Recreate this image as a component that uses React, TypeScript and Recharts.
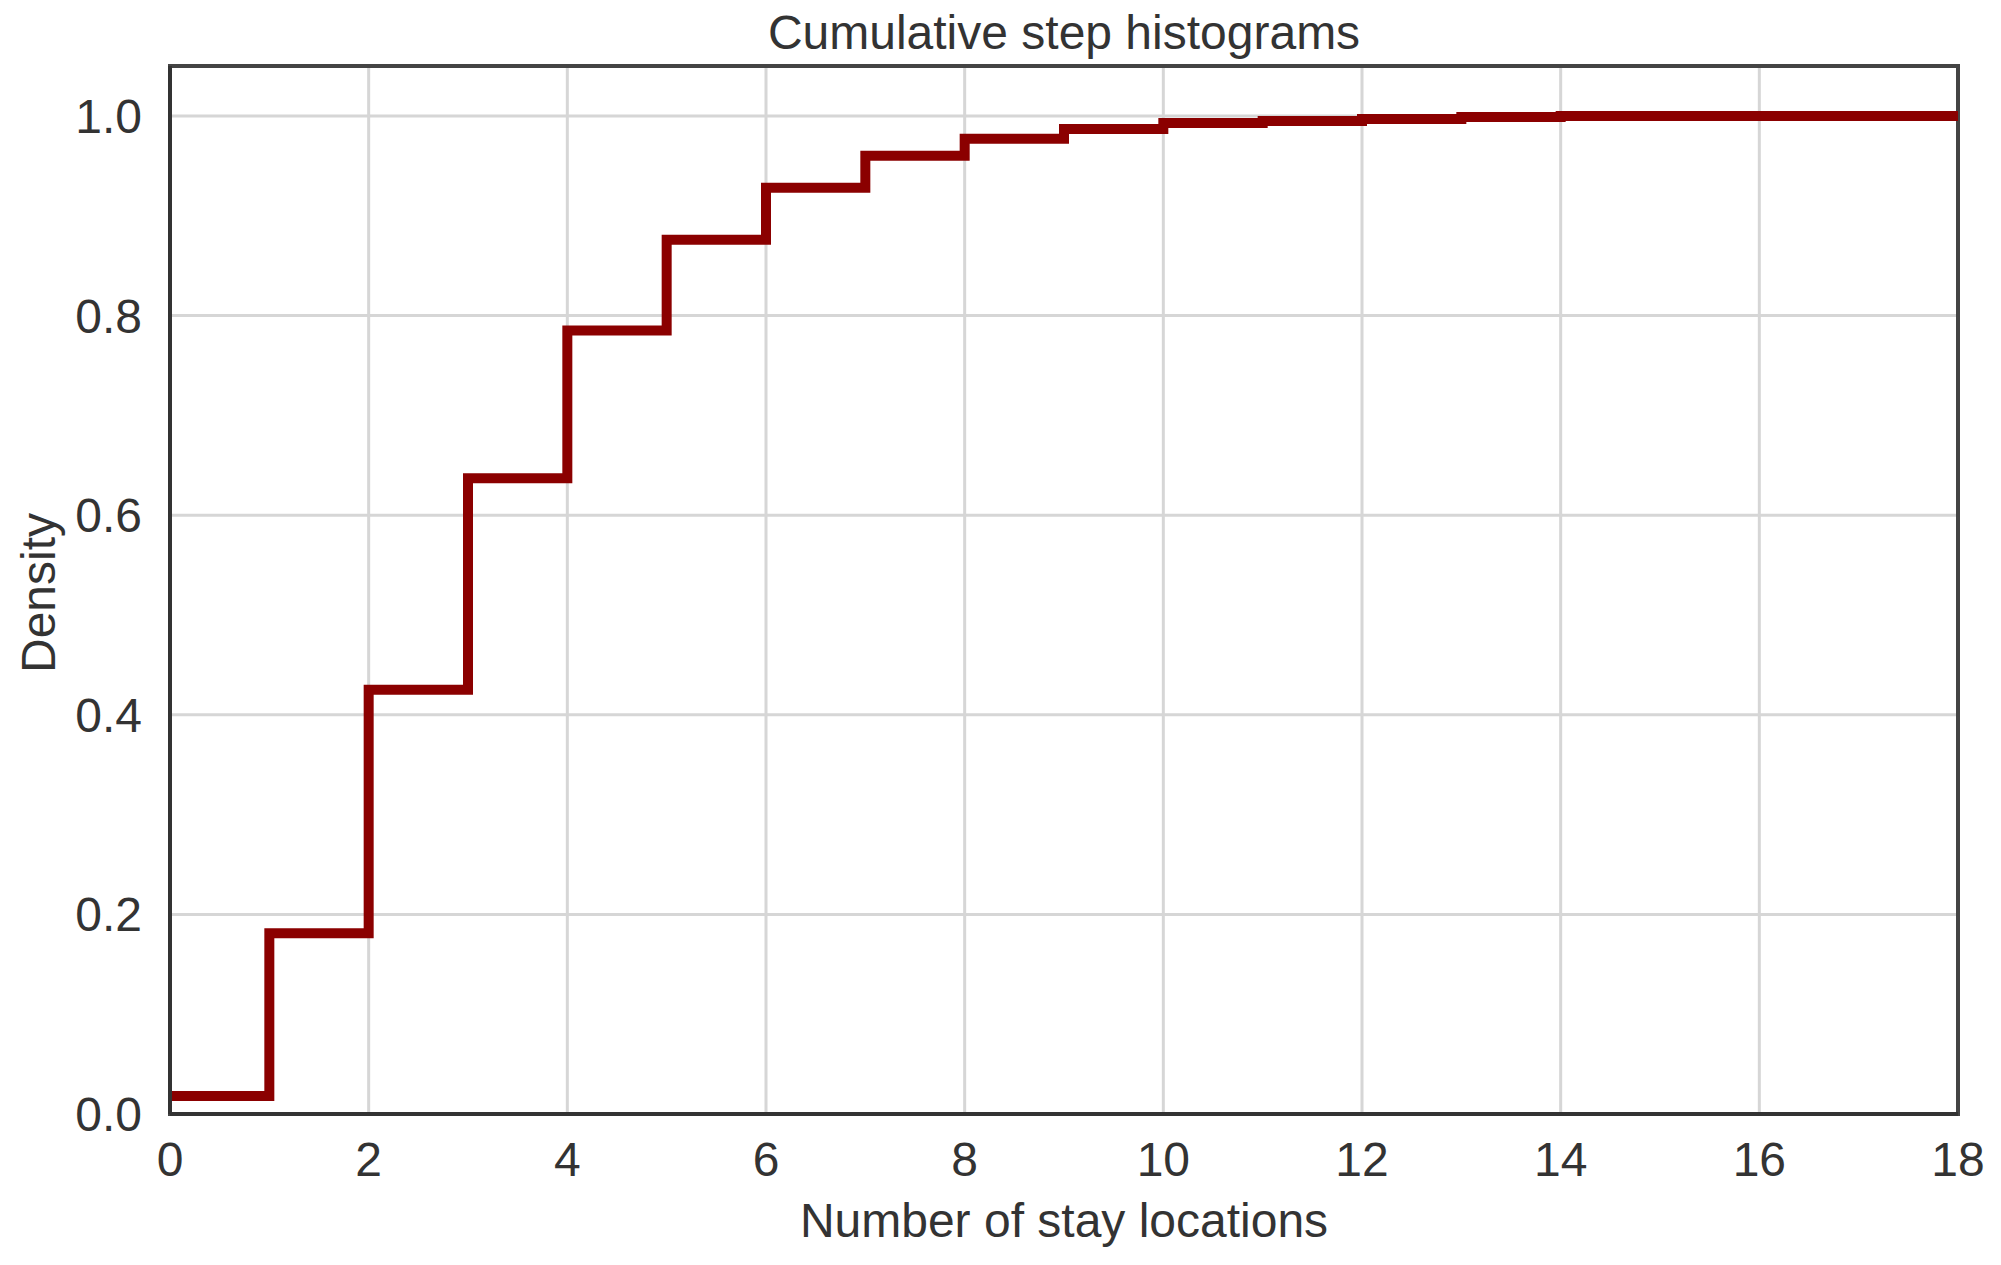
import React from "react";
import {
  LineChart,
  Line,
  XAxis,
  YAxis,
  CartesianGrid,
  ReferenceArea,
} from "recharts";

// bin edges (number of stay locations) and cumulative density per bin
const binStarts = [0, 1, 2, 3, 4, 5, 6, 7, 8, 9, 10, 11, 12, 13, 14, 15, 16, 17];
const cumulativeDensity = [
  0.018, 0.181, 0.425, 0.637, 0.785, 0.876, 0.928, 0.96, 0.977, 0.987, 0.993, 0.995, 0.997,
  0.999, 1.0, 1.0, 1.0, 1.0,
];
const lastEdge = 18;

const xTicks = [0, 2, 4, 6, 8, 10, 12, 14, 16, 18];
const yTicks = [0, 0.2, 0.4, 0.6, 0.8, 1.0];

const W = 2001;
const H = 1265;
const FONT = "'Liberation Sans', Arial, sans-serif";
const TEXT = "#333";
const FS = 48;

const data = [
  ...binStarts.map((x, i) => ({ x, density: cumulativeDensity[i] })),
  { x: lastEdge, density: cumulativeDensity[cumulativeDensity.length - 1] },
];

export default function App() {
  return (
    <div style={{ position: "absolute", left: 0, top: 0, width: W, height: H, background: "#fff", fontFamily: FONT }}>
      <div
        style={{
          position: "absolute",
          left: 1064,
          top: 32,
          transform: "translate(-50%, -50%)",
          fontSize: FS,
          color: TEXT,
          whiteSpace: "nowrap",
        }}
      >
        Cumulative step histograms
      </div>
      <div
        style={{
          position: "absolute",
          left: 38,
          top: 593,
          transform: "translate(-50%, -50%) rotate(-90deg)",
          fontSize: FS,
          color: TEXT,
          whiteSpace: "nowrap",
        }}
      >
        Density
      </div>
      <div
        style={{
          position: "absolute",
          left: 1064,
          top: 1220,
          transform: "translate(-50%, -50%)",
          fontSize: FS,
          color: TEXT,
          whiteSpace: "nowrap",
        }}
      >
        Number of stay locations
      </div>
      <LineChart
        width={W}
        height={H}
        data={data}
        margin={{ top: 66, right: 43, bottom: 0, left: 0 }}
        style={{ position: "absolute", left: 0, top: 0 }}
      >
        <CartesianGrid stroke="#d6d6d6" strokeWidth={3} />
        <XAxis
          dataKey="x"
          type="number"
          domain={[0, 18]}
          ticks={xTicks}
          height={151}
          tickLine={false}
          axisLine={{ stroke: "#333", strokeWidth: 4 }}
          tickMargin={22}
          tick={{ fontSize: FS, fill: TEXT, fontFamily: FONT }}
        />
        <YAxis
          type="number"
          domain={[0, 1.05]}
          ticks={yTicks}
          width={170}
          tickLine={false}
          axisLine={{ stroke: "#333", strokeWidth: 4 }}
          tickMargin={22}
          tickFormatter={(v: number) => v.toFixed(1)}
          tick={{ fontSize: FS, fill: TEXT, fontFamily: FONT }}
        />
        <ReferenceArea x1={0} x2={18} y1={0} y2={1.05} fill="none" stroke="#444" strokeWidth={4} ifOverflow="visible" />
        <Line
          dataKey="density"
          type="stepAfter"
          stroke="#8b0000"
          strokeWidth={10}
          strokeLinejoin="miter"
          strokeLinecap="butt"
          dot={false}
          activeDot={false}
          isAnimationActive={false}
        />
      </LineChart>
    </div>
  );
}
